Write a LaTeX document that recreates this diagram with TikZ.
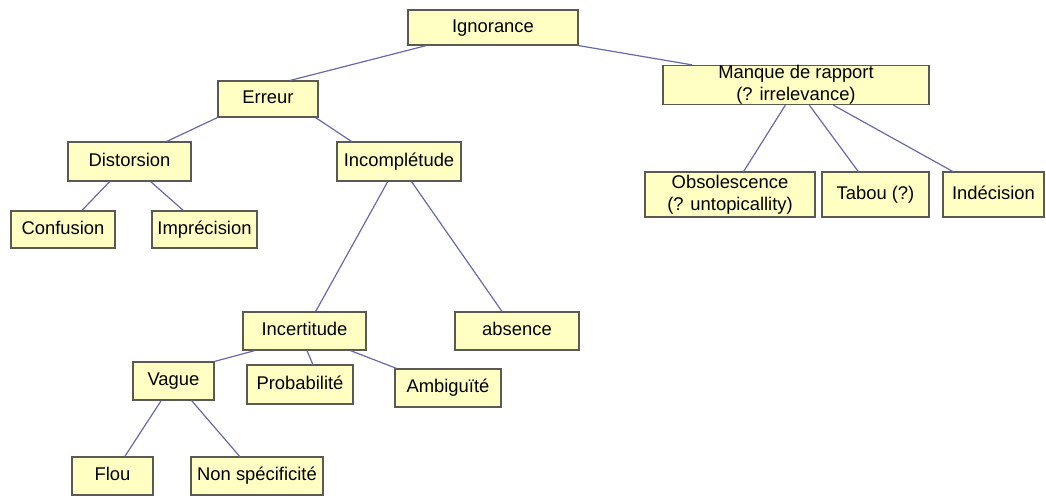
\documentclass[tikz,border=0pt]{standalone}
\usepackage{fontspec}
\setmainfont{Liberation Sans}
\usetikzlibrary{calc}
\definecolor{boxfill}{HTML}{FFFFC4}
\definecolor{boxline}{HTML}{5A5A52}
\definecolor{linkcol}{HTML}{6868AA}
\tikzset{
  box/.style={draw=boxline,fill=boxfill,line width=0.9pt,inner sep=0pt,
    align=center,font=\fontsize{13.8}{16.5}\selectfont},
  oneline/.style={box,text height=9.9pt,text depth=2.9pt},
  link/.style={draw=linkcol,line width=0.9pt}
}
\begin{document}
\begin{tikzpicture}[x=0.75pt,y=-0.75pt]
        \useasboundingbox (0,0) rectangle (1046,496);
        % top levels
        \node[oneline,minimum width=127.5pt,minimum height=26.25pt] (ign) at (493,27.5) {Ignorance};
        \node[oneline,minimum width=75pt,minimum height=27pt] (err) at (268,99) {Erreur};
        \node[box,minimum width=199.5pt,minimum height=28.5pt] (man) at (796,85) {Manque de rapport\\(? irrelevance)};
        \node[box,minimum width=127.5pt,minimum height=33.75pt] (obs) at (730,194.5) {Obsolescence\\(? untopicallity)};
        \node[oneline,minimum width=80.25pt,minimum height=33.75pt] (tab) at (875.5,194.5) {Tabou (?)};
        \node[oneline,minimum width=75.75pt,minimum height=33.75pt] (ind) at (993.5,194.5) {Indécision};
        \node[oneline,minimum width=92.25pt,minimum height=29.25pt] (dis) at (129.5,161.5) {Distorsion};
        \node[oneline,minimum width=93pt,minimum height=29.25pt] (inc) at (399,161.5) {Incomplétude};
        \node[oneline,minimum width=78pt,minimum height=27.75pt] (conf) at (63,229.5) {Confusion};
        \node[oneline,minimum width=78.75pt,minimum height=27.75pt] (imp) at (204.5,229.5) {Imprécision};
        % lower levels
        \node[oneline,minimum width=92.25pt,minimum height=28.5pt] (incert) at (304.5,331) {Incertitude};
        \node[oneline,minimum width=93pt,minimum height=28.5pt] (abs) at (517,331) {absence};
        \node[oneline,minimum width=60.75pt,minimum height=28.5pt] (vag) at (173.5,381) {Vague};
        \node[oneline,minimum width=79.5pt,minimum height=29.25pt] (prob) at (300,384.5) {Probabilité};
        \node[oneline,minimum width=79.5pt,minimum height=28.5pt] (amb) at (448,388) {Ambiguïté};
        \node[oneline,minimum width=60.75pt,minimum height=28.5pt] (flou) at (112.5,476) {Flou};
        \node[oneline,minimum width=99pt,minimum height=28.5pt] (nonsp) at (257,476) {Non spécificité};
        % links, from bottom side of parent to top side of child
        \foreach \a/\fa/\b/\fb in {ign/.11/err/.72, ign/1/man/.11, err/0/dis/.80, err/.97/inc/.12,
            dis/.34/conf/.68, dis/.67/imp/.30, inc/.41/incert/.59, inc/.60/abs/.38,
            incert/.10/vag/1, incert/.52/prob/.62, incert/.87/amb/.02,
            vag/.35/flou/.65, vag/.72/nonsp/.37,
            man/.46/obs/.58, man/.55/tab/.34, man/.64/ind/.10} {
            \draw[link] ($(\a.south west)!\fa!(\a.south east)$) -- ($(\b.north west)!\fb!(\b.north east)$);
        }
    \end{tikzpicture}
\end{document}
